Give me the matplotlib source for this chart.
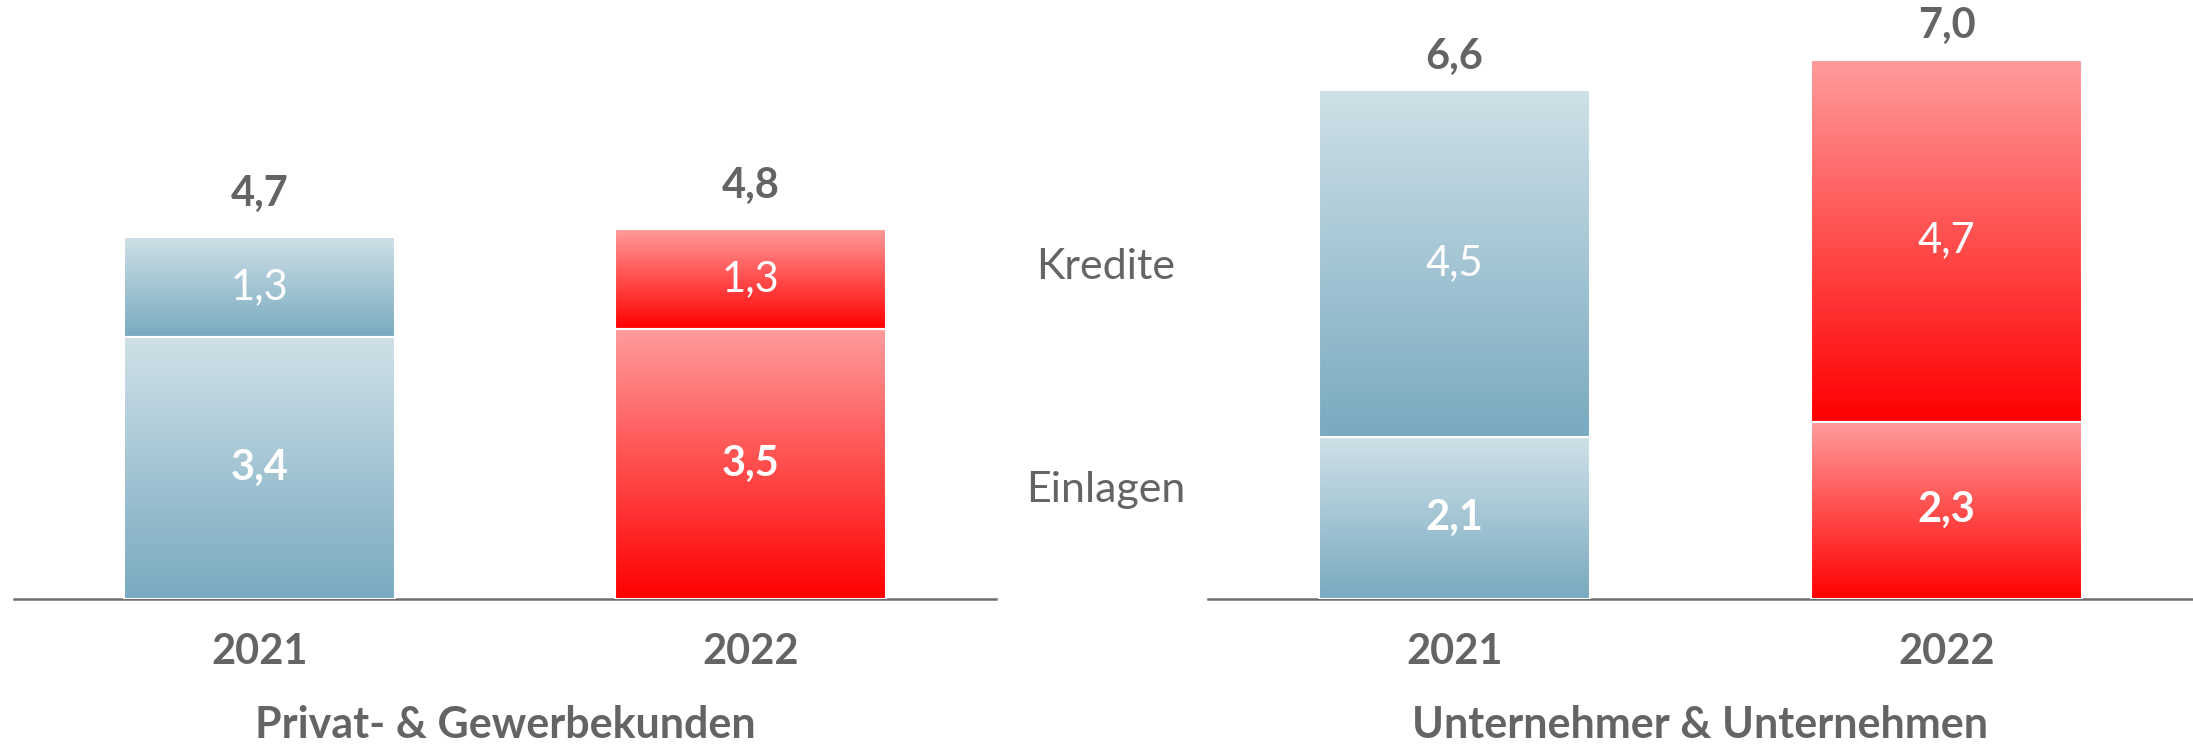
import matplotlib
matplotlib.use("Agg")
from matplotlib import pyplot as plt
from matplotlib.colors import LinearSegmentedColormap
import numpy as np

plt.rcParams['font.family'] = ['Lato', 'DejaVu Sans']

# data
years = ["2021", "2022"]
privat_einlagen = [3.4, 3.5]
privat_kredite = [1.3, 1.3]
privat_total = [4.7, 4.8]
unt_einlagen = [2.1, 2.3]
unt_kredite = [4.5, 4.7]
unt_total = [6.6, 7.0]
titles = ["Privat- & Gewerbekunden", "Unternehmer & Unternehmen"]

GREY = "#646464"
blue_cmap = LinearSegmentedColormap.from_list("blue", ["#78aac0", "#cfe0e7"])
red_cmap = LinearSegmentedColormap.from_list("red", ["#ff0000", "#ff9c9c"])
cmaps = [blue_cmap, red_cmap]
grad = np.linspace(0, 1, 256).reshape(-1, 1)


def fmt(v):
    return f"{v:.1f}".replace(".", ",")


def gradient_bars(ax, x, heights, bottoms):
    bars = ax.bar(x, heights, 0.55, bottom=bottoms, facecolor="none",
                  edgecolor="white", linewidth=1.5, zorder=3)
    for i, patch in enumerate(bars):
        x0, y0 = patch.get_x(), patch.get_y()
        w, h = patch.get_width(), patch.get_height()
        im = ax.imshow(grad, cmap=cmaps[i], origin="lower", aspect="auto",
                       extent=[x0, x0 + w, y0, y0 + h], zorder=2)
        im.set_clip_path(patch)
    return bars


fig = plt.figure(figsize=(21.93, 7.45), dpi=100)
base = 1 - 598.6 / 745
ylim_top = 7.5
h = ylim_top * 77 / 745
ax1 = fig.add_axes([14 / 2193, base, 982 / 2193, h])
ax2 = fig.add_axes([1208 / 2193, base, 985 / 2193, h])

panels = [
    (ax1, privat_einlagen, privat_kredite, privat_total, 31),
    (ax2, unt_einlagen, unt_kredite, unt_total, 24),
]

FS = 30
x = np.arange(len(years))
for k, (ax, einl, kred, tot, off) in enumerate(panels):
    gradient_bars(ax, x, einl, 0)
    gradient_bars(ax, x, kred, einl)
    for i in range(len(years)):
        ax.text(x[i], einl[i] / 2, fmt(einl[i]), ha="center", va="center",
                color="white", fontsize=FS, fontweight="bold", zorder=4)
        ax.text(x[i], einl[i] + kred[i] / 2, fmt(kred[i]), ha="center",
                va="center", color="white", fontsize=FS, zorder=4)
        ax.annotate(fmt(tot[i]), (x[i], tot[i]), xytext=(0, off),
                    textcoords="offset points", ha="center", va="center",
                    color=GREY, fontsize=FS, fontweight="bold")
        ax.text(x[i], -0.69, years[i], ha="center", va="center",
                color=GREY, fontsize=FS, fontweight="bold")
    ax.text(0.5, -126 / 577.5, titles[k], transform=ax.transAxes,
            ha="center", va="center", color=GREY, fontsize=31,
            fontweight="bold")
    ax.set_xlim(-0.5, 1.5)
    ax.set_ylim(0, ylim_top)
    for s in ["top", "left", "right"]:
        ax.spines[s].set_visible(False)
    ax.spines["bottom"].set_color("#6e6e6e")
    ax.spines["bottom"].set_linewidth(1.8)
    ax.set_xticks([])
    ax.set_yticks([])
    ax.patch.set_alpha(0)

ax2.text(-0.707, 4.31, "Kredite", ha="center", va="center", color=GREY,
         fontsize=FS + 1, clip_on=False)
ax2.text(-0.707, 1.41, "Einlagen", ha="center", va="center", color=GREY,
         fontsize=FS + 1, clip_on=False)

fig.savefig("out.png", dpi=100)
